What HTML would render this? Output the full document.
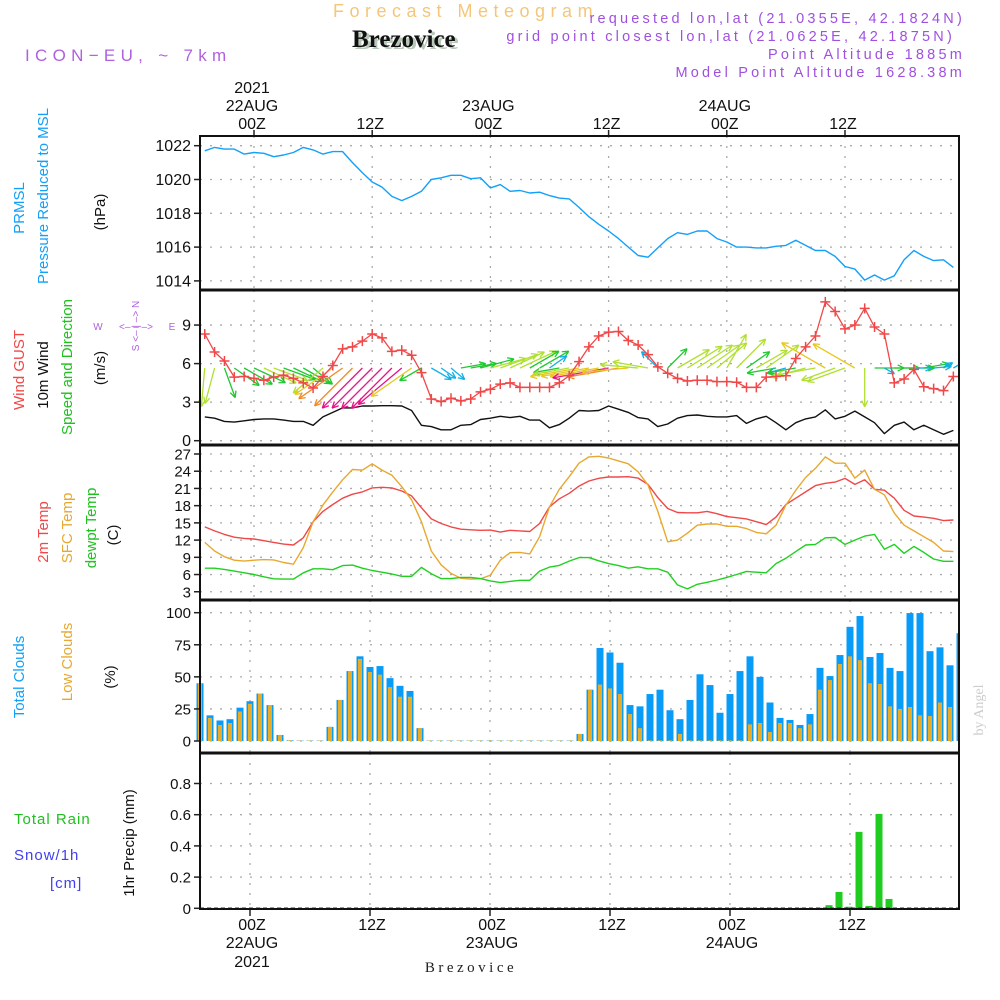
<!DOCTYPE html>
<html><head><meta charset="utf-8"><title>Forecast Meteogram Brezovice</title>
<style>
html,body{margin:0;padding:0;background:#fff;}
svg{display:block;font-family:"Liberation Sans",sans-serif;}
</style></head>
<body>
<svg id="chart" width="1000" height="1000" viewBox="0 0 1000 1000" xmlns="http://www.w3.org/2000/svg">
<rect width="1000" height="1000" fill="#fff"/>
<text x="333" y="17" font-size="18" fill="#f5c67a" letter-spacing="5.5">Forecast Meteogram</text>
<text x="355" y="49" font-size="25" font-weight="bold" font-family="Liberation Serif,serif" fill="#b8c8b8">Brezovice</text>
<text x="352" y="47" font-size="25" font-weight="bold" font-family="Liberation Serif,serif" fill="#111">Brezovice</text>
<text x="25" y="61" font-size="17" fill="#b060e0" letter-spacing="5.3">ICON−EU, ~ 7km</text>
<g font-size="14.5" fill="#a050e0" text-anchor="end" letter-spacing="3.2">
<text x="965" y="23">requested lon,lat (21.0355E, 42.1824N)</text>
<text x="955" y="41">grid point closest lon,lat (21.0625E, 42.1875N)</text>
<text x="965" y="59">Point Altitude 1885m</text>
<text x="965" y="77">Model Point Altitude 1628.38m</text>
</g>
<g id="grid"></g>
<g id="marks"></g>
<g id="frames"></g>
<g id="labels"></g>
</svg>
<script>
// ---------- DATA (hourly, hours from 22AUG 00Z: -5 .. 71) ----------
const hourStart = -5;
const pressure = [1021.7,1021.9,1021.8,1021.8,1021.5,1021.6,1021.55,1021.35,1021.45,1021.6,1021.9,1021.75,1021.5,1021.65,1021.65,1021.0,1020.4,1019.85,1019.55,1019.0,1018.75,1019.0,1019.3,1020.0,1020.1,1020.25,1020.25,1020.05,1020.1,1019.5,1019.7,1019.3,1019.35,1019.2,1019.25,1019.05,1018.9,1018.85,1018.35,1017.8,1017.35,1016.95,1016.5,1016.0,1015.5,1015.4,1015.95,1016.5,1016.85,1016.75,1016.95,1016.95,1016.5,1016.3,1016.0,1016.0,1015.95,1015.95,1016.05,1016.1,1016.4,1016.1,1015.8,1015.8,1015.45,1014.85,1014.7,1014.05,1014.35,1014.05,1014.3,1015.25,1015.8,1015.45,1015.2,1015.25,1014.8];
const windGust = [8.3,6.9,6.2,4.95,5.0,4.85,4.7,4.95,5.1,4.85,4.5,4.1,5.0,5.85,7.15,7.3,7.75,8.3,8.0,6.95,7.05,6.65,5.3,3.25,3.05,3.3,3.1,3.25,3.8,4.0,4.4,4.5,4.15,4.15,4.15,4.15,4.5,5.05,6.15,7.3,8.15,8.45,8.5,7.8,7.45,6.7,5.75,5.25,4.85,4.65,4.7,4.7,4.6,4.6,4.55,4.15,4.15,4.95,5.0,5.05,6.4,7.3,8.15,10.8,10.05,8.7,9.0,10.3,8.85,8.3,4.5,4.8,5.55,4.2,4.05,3.9,5.0];
const windMean = [1.85,1.75,1.5,1.45,1.55,1.65,1.7,1.7,1.6,1.5,1.5,1.2,1.85,2.2,2.55,2.55,2.7,2.7,2.72,2.72,2.7,2.35,1.2,1.1,0.85,0.85,1.2,1.25,1.65,1.75,1.9,1.8,1.9,1.6,1.6,1.0,1.25,1.75,2.35,2.3,2.35,2.7,2.45,2.2,1.8,1.7,1.1,1.3,1.75,1.95,2.0,1.9,1.85,1.85,1.95,1.35,1.7,1.9,1.4,0.85,1.4,1.7,1.85,2.4,1.7,1.9,2.3,1.85,1.4,0.55,1.2,1.45,0.85,1.2,0.85,0.5,0.8];
const windDir = [265,255,290,325,330,335,335,340,340,335,330,320,220,215,215,225,225,225,225,225,220,215,210,330,325,320,10,10,15,15,20,25,25,30,30,35,190,190,190,190,190,190,190,185,175,170,135,45,30,32,33,35,40,60,45,35,30,35,190,195,190,195,190,150,200,200,150,270,0,330,0,0,0,10,5,30,30];
const temp2m = [14.3,13.6,13.0,12.5,12.3,12.2,11.9,11.6,11.3,11.15,12.4,15.2,17.0,18.2,19.3,20.0,20.4,21.1,21.2,21.1,20.55,19.7,17.65,15.7,14.9,14.3,13.9,13.8,13.7,13.75,13.4,13.7,13.6,13.5,14.9,17.8,19.2,20.15,21.4,22.3,22.76,23.0,23.0,23.05,22.8,21.7,19.4,17.5,16.8,16.75,16.75,17.0,16.6,16.1,15.9,15.7,15.2,14.7,16.0,18.2,19.3,20.4,21.5,21.9,22.1,22.75,21.7,22.5,20.85,20.7,19.3,17.2,16.2,16.0,15.8,15.4,15.5];
const tempSfc = [11.6,10.1,9.1,8.5,8.35,8.5,8.6,8.55,8.1,7.8,10.7,15.2,18.1,20.4,22.5,24.3,24.2,25.3,24.2,23.3,21.3,19.0,15.2,10.1,7.7,6.2,5.35,5.2,5.25,5.9,8.5,9.8,9.85,9.6,12.6,17.8,20.85,23.05,25.4,26.5,26.6,26.3,25.8,25.3,23.9,21.6,17.0,11.7,12.0,13.2,14.6,14.8,14.8,14.4,14.4,14.0,13.35,13.1,14.6,18.1,20.7,22.9,24.5,26.5,25.4,25.4,22.8,24.2,20.85,19.9,16.7,14.6,13.6,12.6,11.6,10.1,10.0];
const dewpt = [7.1,7.1,6.9,6.6,6.3,6.0,5.6,5.25,5.2,5.2,6.3,7.0,7.0,6.85,7.55,7.65,7.1,6.7,6.4,6.1,5.7,5.7,7.25,6.15,5.3,5.3,5.5,5.5,5.3,4.9,4.6,4.8,5.0,5.0,6.6,7.3,7.6,8.35,8.95,8.95,8.4,7.9,7.55,7.1,7.35,7.0,7.0,6.4,4.2,3.5,4.3,4.65,5.05,5.5,6.0,6.55,6.4,6.3,7.9,8.85,10.0,11.15,11.25,12.4,12.45,11.25,12.0,12.7,13.0,10.4,11.25,9.7,10.9,9.85,8.7,8.3,8.3];
const cloudTotal = [45,20,16,17,26,31,37,28,4.7,0.5,0.3,0.3,0.3,11,32,54.5,66,57.7,58.4,49,43,39,10,0.3,0.3,0.3,0.3,0.3,0.3,0.3,0.3,0.3,0.3,0.3,0.3,0.3,0.3,0.3,5.5,40,72.5,69,61,28,27,36.6,40,24,17,32,52,43.6,22,36.6,54.5,66,50,30,18,16.4,12.5,21,57,50.6,67,89,97.4,65.5,68.6,57,54.5,99.7,99.7,70,73,59,84];
const cloudLow = [45,18,12.5,14,23,29,37,28,4.7,0.5,0.3,0.3,0.3,11,32,54.5,64,53.8,51.7,42,34.5,34.5,10,0.3,0.3,0.3,0.3,0.3,0.3,0.3,0.3,0.3,0.3,0.3,0.3,0.3,0.3,0.3,5.5,40,44,41,36.6,21,10,0.5,0.5,0.5,5.5,0.5,0.5,0.5,0.5,0.5,0.5,13,14,7,14,14,10,13,40,47.5,60,66,63,45,44.4,27,25,26.5,20,19.5,30,26.5,43];
const precipHours = [58,59,60,61,62,63,64];
const precipVals = [0.02,0.105,0.01,0.49,0.015,0.605,0.06];
const pTicks = [1014,1016,1018,1020,1022];
const wTicks = [0,3,6,9];
const tTicks = [3,6,9,12,15,18,21,24,27];
const cTicks = [0,25,50,75,100];
const rTicks = [0,0.2,0.4,0.6,0.8];
const rTickLabels = ["0","0.2","0.4","0.6","0.8"];
const gridHours = [0,12,24,36,48,60];
const timeLabels = ["00Z","12Z","00Z","12Z","00Z","12Z"];
const dayLabels = ["22AUG","","23AUG","","24AUG",""];

// ---------- SCALES ----------
const L=200, R=959;
const xT = h => 254 + 9.85*h;
const xB = h => 250 + 10*h;
const yP = v => 145.7 + (1022-v)*16.9;
const yW = v => 440.7 - v*12.85;
const yT = v => 454 + (27-v)*5.74;
const yC = v => 741 - v*1.283;
const yR = v => 908.3 - v*156;
const panels = [[136,290],[290,445],[445,600],[600,753],[753,909]];

const NS="http://www.w3.org/2000/svg";
function mk(tag, parent, attrs){const e=document.createElementNS(NS,tag);for(const k in attrs)e.setAttribute(k,attrs[k]);parent.appendChild(e);return e;}
const gGrid=document.getElementById('grid'), gM=document.getElementById('marks'), gF=document.getElementById('frames'), gL=document.getElementById('labels');

function hGrid(ticks, yf, name){ticks.forEach(t=>{const l=mk('line',gGrid,{x1:L,x2:R,y1:yf(t),y2:yf(t),stroke:'#aaa','stroke-width':1.3,'stroke-dasharray':'2 8'});


const tk=mk('line',gF,{x1:L-6,x2:L,y1:yf(t),y2:yf(t),stroke:'#222','stroke-width':1.5});

});}
hGrid(pTicks,yP,'pressure');hGrid(wTicks,yW,'wind');hGrid(tTicks,yT,'temp');hGrid(cTicks,yC,'cloud');hGrid(rTicks,yR,'precip');
gridHours.forEach(h=>{
  [[0,1,2,xT],[3,4,null,xB]].forEach(grp=>{const xf=grp[3];[grp[0],grp[1],grp[2]].forEach(pi=>{if(pi===null)return;const p=panels[pi];
  const l=mk('line',gGrid,{x1:xf(h),x2:xf(h),y1:p[0],y2:p[1],stroke:'#aaa','stroke-width':1.3,'stroke-dasharray':'2 8'});
  
  });});
  const t1=mk('line',gF,{x1:xT(h),x2:xT(h),y1:130,y2:136,stroke:'#222','stroke-width':1.5});
  
  
  const t2=mk('line',gF,{x1:xB(h),x2:xB(h),y1:909,y2:916,stroke:'#222','stroke-width':1.5});
  
  
});

function line(vals, xf, yf, color, name, w){const pts=vals.map((v,i)=>xf(hourStart+i).toFixed(1)+','+yf(v).toFixed(1)).join(' ');
const pl=mk('polyline',gM,{points:pts,fill:'none',stroke:color,'stroke-width':w||1.4,'stroke-linejoin':'round'});

return pl;}

line(pressure,xT,yP,'#12a0f8','pressure-line');
line(windMean,xT,yW,'#111','mean-wind-line');

function windColor(s){if(s<1.2)return '#10b0e8';if(s<1.7)return '#20c830';if(s<2.1)return '#b0e030';if(s<2.45)return '#e8c820';if(s<2.62)return '#f08a28';return '#e8108a';}
windDir.forEach((d,i)=>{const s=windMean[i];const len=21*s;const x0=xT(hourStart+i), y0=368;const a=d*Math.PI/180;
const x1=x0+len*Math.cos(a), y1=y0-len*Math.sin(a);const c=windColor(s);
const g=mk('g',gM,{stroke:c,'stroke-width':1.3,fill:'none'});


mk('line',g,{x1:x0,y1:y0,x2:x1,y2:y1});
const hl=7;[a+Math.PI-0.45,a+Math.PI+0.45].forEach(b=>mk('line',g,{x1:x1,y1:y1,x2:x1+hl*Math.cos(b),y2:y1-hl*Math.sin(b)}));});

line(windGust,xT,yW,'#f04848','wind-gust-line',1.3);
windGust.forEach((v,i)=>{const x=xT(hourStart+i),y=yW(v);const p=mk('path',gM,{d:`M${x-5},${y}H${x+5}M${x},${y-5}V${y+5}`,stroke:'#f04848','stroke-width':1.5});

});

line(temp2m,xT,yT,'#f04848','temp-2m-line');
line(tempSfc,xT,yT,'#e8a830','temp-sfc-line');
line(dewpt,xT,yT,'#20d020','dewpoint-line');

cloudTotal.forEach((v,i)=>{const x=xB(hourStart+i);const r=mk('rect',gM,{x:x-3.5,y:yC(v),width:7,height:yC(0)-yC(v),fill:'#089cf8'});


const lv=cloudLow[i];const r2=mk('rect',gM,{x:x-2,y:yC(lv),width:4,height:yC(0)-yC(lv),fill:'#e8ac28'});

});

precipVals.forEach((v,i)=>{const x=xB(precipHours[i])-1;const r=mk('rect',gM,{x:x-3.5,y:yR(v),width:7,height:yR(0)-yR(v),fill:'#20cc20'});

});
const bl=mk('line',gM,{x1:L,x2:R,y1:908,y2:908,stroke:'#333','stroke-width':1,'stroke-dasharray':'4 3'});



const fr=mk('rect',gF,{x:L,y:136,width:R-L,height:909-136,fill:'none',stroke:'#111','stroke-width':2});


[290,445,600,753].forEach(y=>{const l=mk('line',gF,{x1:L,x2:R,y1:y,y2:y,stroke:'#111','stroke-width':3});

});
const cov=mk('rect',gM,{x:R+1,y:130,width:30,height:785,fill:'#fff'});



function tLabels(ticks,yf,labels,name,size){ticks.forEach((t,i)=>{const e=mk('text',gL,{x:191,y:yf(t)+5.5,'text-anchor':'end','font-size':size||16,fill:'#111'});e.textContent=labels?labels[i]:String(t);

});}
tLabels(pTicks,yP,null,'pressure',16);tLabels(wTicks,yW,null,'wind',16);tLabels(tTicks,yT,null,'temp',15);tLabels(cTicks,yC,null,'cloud',15);tLabels(rTicks,yR,rTickLabels,'precip',15);

gridHours.forEach((h,i)=>{
  const a=mk('text',gL,{x:xT(h)-2,y:129,'text-anchor':'middle','font-size':16,fill:'#111'});a.textContent=timeLabels[i];
  
  
  if(dayLabels[i]){const d=mk('text',gL,{x:xT(h)-2,y:111,'text-anchor':'middle','font-size':16,fill:'#111'});d.textContent=dayLabels[i];
  
  
  const b=mk('text',gL,{x:xB(h)+2,y:948,'text-anchor':'middle','font-size':16,fill:'#111'});b.textContent=dayLabels[i];
  
  }
  const c=mk('text',gL,{x:xB(h)+2,y:930,'text-anchor':'middle','font-size':16,fill:'#111'});c.textContent=timeLabels[i];
  
  
});
const y1=mk('text',gL,{x:xT(0)-2,y:93,'text-anchor':'middle','font-size':16,fill:'#111'});y1.textContent='2021';


const y2=mk('text',gL,{x:xB(0)+2,y:967,'text-anchor':'middle','font-size':16,fill:'#111'});y2.textContent='2021';


</script>
<svg style="position:absolute;left:0;top:0" width="1000" height="1000">
<g font-family="Liberation Sans, sans-serif" font-size="15">
<text transform="translate(24,208) rotate(-90)" text-anchor="middle" fill="#12a0f8">PRMSL</text>
<text transform="translate(48,196) rotate(-90)" text-anchor="middle" fill="#12a0f8">Pressure Reduced to MSL</text>
<text transform="translate(105,212) rotate(-90)" text-anchor="middle" fill="#111">(hPa)</text>
<text transform="translate(24,370) rotate(-90)" text-anchor="middle" fill="#f04848">Wind GUST</text>
<text transform="translate(48,375) rotate(-90)" text-anchor="middle" fill="#111">10m Wind</text>
<text transform="translate(72,367) rotate(-90)" text-anchor="middle" fill="#20c020">Speed and Direction</text>
<text transform="translate(105,368) rotate(-90)" text-anchor="middle" fill="#111">(m/s)</text>
<g fill="#b060e0" font-size="10" text-anchor="middle">
<text x="98" y="330">W</text>
<text x="136" y="330">&lt;‒ ‒ ‒&gt;</text>
<text x="172" y="330">E</text>
<text transform="translate(139,326) rotate(-90)">S &lt;‒ | ‒&gt; N</text>
</g>
<text transform="translate(48,532) rotate(-90)" text-anchor="middle" fill="#f04848">2m Temp</text>
<text transform="translate(72,528) rotate(-90)" text-anchor="middle" fill="#e8a830">SFC Temp</text>
<text transform="translate(96,528) rotate(-90)" text-anchor="middle" fill="#20c020">dewpt Temp</text>
<text transform="translate(118,535) rotate(-90)" text-anchor="middle" fill="#111">(C)</text>
<text transform="translate(24,677) rotate(-90)" text-anchor="middle" fill="#12a0f8">Total Clouds</text>
<text transform="translate(72,662) rotate(-90)" text-anchor="middle" fill="#e8a830">Low Clouds</text>
<text transform="translate(115,677) rotate(-90)" text-anchor="middle" fill="#111">(%)</text>
<text x="14" y="824" fill="#20c020" letter-spacing="1">Total  Rain</text>
<text x="14" y="860" fill="#4040f0" letter-spacing="1">Snow/1h</text>
<text x="50" y="888" fill="#4040f0" letter-spacing="1">[cm]</text>
<text transform="translate(134,843) rotate(-90)" text-anchor="middle" fill="#111">1hr Precip (mm)</text>
<text x="471" y="972" text-anchor="middle" font-family="Liberation Serif, serif" font-size="15" fill="#222" letter-spacing="3.5">Brezovice</text>
<text transform="translate(983,710) rotate(-90)" text-anchor="middle" font-family="Liberation Serif, serif" font-size="14" fill="#ccc">by Angel</text>
</g>
</svg>
</body></html>
